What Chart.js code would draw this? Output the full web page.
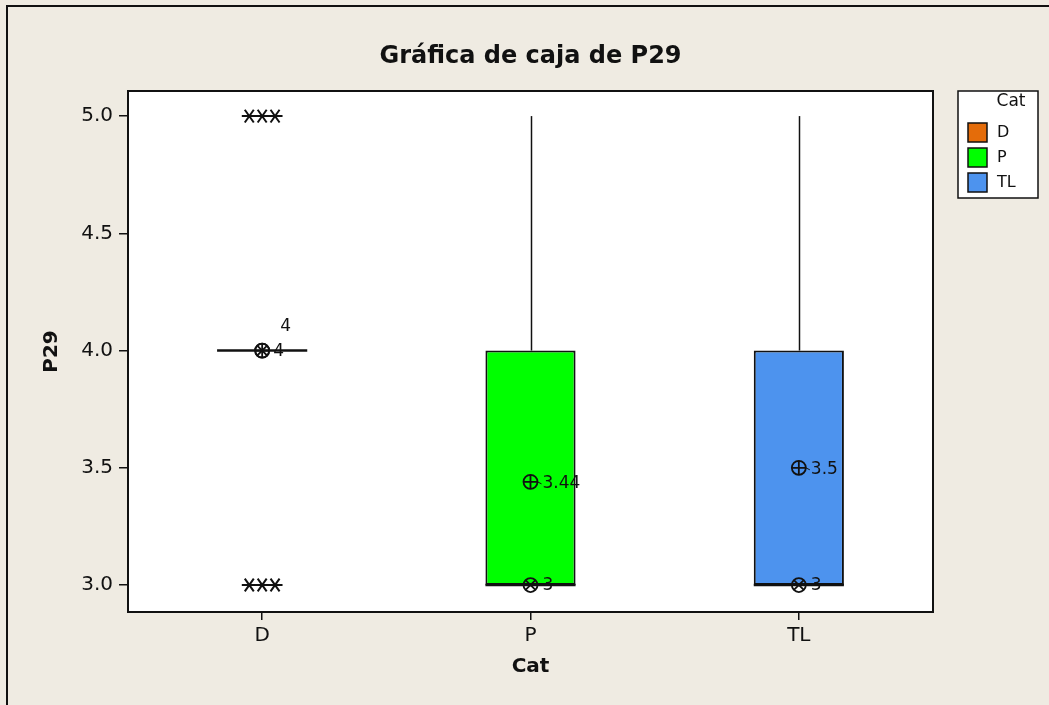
<!DOCTYPE html>
<html>
<head>
<meta charset="utf-8">
<title>Gráfica de caja de P29</title>
<script src="https://cdn.jsdelivr.net/npm/chart.js@4/dist/chart.umd.min.js"></script>
<style>
  html, body { margin: 0; padding: 0; background: #EFEBE2; }
  #wrap { position: relative; width: 1049px; height: 705px; }
  canvas { display: block; }
</style>
</head>
<body>
<div id="wrap"><canvas id="c" width="1049" height="705"></canvas></div>
<script>
// Box plot summary of P29 by Cat
const categories = ['D', 'P', 'TL'];
const q1 = [4, 3, 3];
const medians = [4, 3, 3];
const q3 = [4, 4, 4];
const whiskerLow = [4, 3, 3];
const whiskerHigh = [4, 5, 5];
const means = [4, 3.44, 3.5];
const meanLabels = ['4', '3.44', '3.5'];
const medianLabels = ['4', '3', '3'];
// outliers (category index, value)
const outlierCat = [0, 0, 0, 0, 0, 0];
const outlierValue = [5, 5, 5, 3, 3, 3];
const yTicks = [3.0, 3.5, 4.0, 4.5, 5.0];
const boxColors = ['#E46C0A', '#00FF00', '#4D93EE'];

const FONT = '"DejaVu Sans", Verdana, sans-serif';
const BOX_HALF = 0.168;           // half box width in category units
const JITTER = [-0.048, 0, 0.048]; // spread of repeated outliers

const boxPlugin = {
  id: 'boxplot',
  beforeDraw(chart) {
    const ctx = chart.ctx;
    ctx.save();
    ctx.fillStyle = '#EFEBE2';
    ctx.fillRect(0, 0, chart.width, chart.height);
    // outer frame
    ctx.strokeStyle = '#111';
    ctx.lineWidth = 2;
    ctx.beginPath();
    ctx.moveTo(7, chart.height + 2);
    ctx.lineTo(7, 6);
    ctx.lineTo(chart.width + 2, 6);
    ctx.stroke();
    const a = chart.chartArea;
    ctx.fillStyle = '#FFFFFF';
    ctx.fillRect(a.left, a.top, a.right - a.left, a.bottom - a.top);
    ctx.restore();
  },
  beforeDatasetsDraw(chart) {
    // whiskers drawn behind the boxes
    const ctx = chart.ctx, x = chart.scales.x, y = chart.scales.y;
    ctx.save();
    ctx.strokeStyle = '#111';
    ctx.lineWidth = 1.5;
    categories.forEach((c, i) => {
      const px = Math.round(x.getPixelForValue(i)) + 0.5;
      if (whiskerHigh[i] > q3[i]) {
        ctx.beginPath();
        ctx.moveTo(px, y.getPixelForValue(q3[i]));
        ctx.lineTo(px, y.getPixelForValue(whiskerHigh[i]));
        ctx.stroke();
      }
      if (whiskerLow[i] < q1[i]) {
        ctx.beginPath();
        ctx.moveTo(px, y.getPixelForValue(q1[i]));
        ctx.lineTo(px, y.getPixelForValue(whiskerLow[i]));
        ctx.stroke();
      }
    });
    ctx.restore();
  },
  afterDatasetsDraw(chart) {
    const ctx = chart.ctx, x = chart.scales.x, y = chart.scales.y;
    const a = chart.chartArea;
    ctx.save();
    ctx.strokeStyle = '#111';
    ctx.fillStyle = '#111';

    // median lines
    ctx.lineWidth = 2.5;
    categories.forEach((c, i) => {
      const py = y.getPixelForValue(medians[i]);
      ctx.beginPath();
      ctx.moveTo(x.getPixelForValue(i - BOX_HALF), py);
      ctx.lineTo(x.getPixelForValue(i + BOX_HALF), py);
      ctx.stroke();
    });

    // mean (circle +) and median (circle x) symbols
    const r = 7;
    ctx.lineWidth = 1.8;
    categories.forEach((c, i) => {
      const px = x.getPixelForValue(i);
      const pm = y.getPixelForValue(means[i]);
      const pd = y.getPixelForValue(medians[i]);
      // mean symbol
      ctx.beginPath(); ctx.arc(px, pm, r, 0, Math.PI * 2); ctx.stroke();
      ctx.beginPath();
      ctx.moveTo(px - r, pm); ctx.lineTo(px + r, pm);
      ctx.moveTo(px, pm - r); ctx.lineTo(px, pm + r);
      ctx.stroke();
      // median symbol
      const d = r * 0.707;
      ctx.beginPath(); ctx.arc(px, pd, r, 0, Math.PI * 2); ctx.stroke();
      ctx.beginPath();
      ctx.moveTo(px - d, pd - d); ctx.lineTo(px + d, pd + d);
      ctx.moveTo(px + d, pd - d); ctx.lineTo(px - d, pd + d);
      ctx.stroke();
    });

    // value labels
    ctx.font = '17px ' + FONT;
    ctx.textBaseline = 'middle';
    ctx.textAlign = 'left';
    ctx.lineWidth = 1;
    categories.forEach((c, i) => {
      const px = x.getPixelForValue(i);
      const pm = y.getPixelForValue(means[i]);
      const pd = y.getPixelForValue(medians[i]);
      if (means[i] === medians[i]) {
        ctx.fillText(medianLabels[i], px + 11, pd + 1);
        ctx.fillText(meanLabels[i], px + 18, pm - 24);
      } else {
        ctx.beginPath(); ctx.moveTo(px + r, pm); ctx.lineTo(px + r + 4, pm + 2); ctx.stroke();
        ctx.fillText(meanLabels[i], px + 12, pm + 2);
        ctx.fillText(medianLabels[i], px + 12, pd + 1);
      }
    });

    // outliers as asterisks, repeated values spread side by side
    const seen = {};
    ctx.lineWidth = 2;
    outlierValue.forEach((v, k) => {
      const key = outlierCat[k] + ':' + v;
      const n = seen[key] = (seen[key] || 0) + 1;
      const px = x.getPixelForValue(outlierCat[k] + JITTER[(n - 1) % JITTER.length]);
      const py = y.getPixelForValue(v);
      const s = 7.5;
      ctx.beginPath();
      ctx.moveTo(px - s, py); ctx.lineTo(px + s, py);
      ctx.moveTo(px - s * 0.6, py - s * 0.85); ctx.lineTo(px + s * 0.6, py + s * 0.85);
      ctx.moveTo(px + s * 0.6, py - s * 0.85); ctx.lineTo(px - s * 0.6, py + s * 0.85);
      ctx.stroke();
    });

    // plot frame
    ctx.lineWidth = 2;
    ctx.strokeRect(a.left, a.top, a.right - a.left, a.bottom - a.top);

    // titles
    ctx.textAlign = 'center';
    ctx.font = 'bold 24px ' + FONT;
    ctx.fillText('Gráfica de caja de P29', (a.left + a.right) / 2, 57);
    ctx.font = 'bold 20px ' + FONT;
    ctx.fillText('Cat', (a.left + a.right) / 2, 667);
    ctx.save();
    ctx.translate(52, (a.top + a.bottom) / 2);
    ctx.rotate(-Math.PI / 2);
    ctx.fillText('P29', 0, 0);
    ctx.restore();

    // legend
    const lx = 958, ly = 91, lw = 80, lh = 107;
    ctx.fillStyle = '#FFFFFF';
    ctx.fillRect(lx, ly, lw, lh);
    ctx.lineWidth = 1.5;
    ctx.strokeRect(lx, ly, lw, lh);
    ctx.fillStyle = '#111';
    ctx.font = '17px ' + FONT;
    ctx.textAlign = 'center';
    ctx.fillText('Cat', 1011, 102);
    ctx.font = '16px ' + FONT;
    ctx.textAlign = 'left';
    categories.forEach((c, i) => {
      const sy = 123 + i * 25;
      ctx.fillStyle = boxColors[i];
      ctx.fillRect(968, sy, 19, 19);
      ctx.strokeStyle = '#111';
      ctx.lineWidth = 1.5;
      ctx.strokeRect(968, sy, 19, 19);
      ctx.fillStyle = '#111';
      ctx.fillText(c, 997, sy + 10);
    });
    ctx.restore();
  }
};

new Chart(document.getElementById('c'), {
  type: 'bar',
  data: {
    labels: categories,
    datasets: [{
      label: 'P29',
      data: categories.map((c, i) => q3[i] > q1[i] ? [q1[i], q3[i]] : null),
      backgroundColor: boxColors,
      borderColor: '#111',
      borderWidth: 2,
      borderSkipped: false,
      categoryPercentage: 1,
      barPercentage: BOX_HALF * 2
    }]
  },
  plugins: [boxPlugin],
  options: {
    responsive: false,
    animation: false,
    layout: { padding: { top: 91, right: 116, left: 0, bottom: 0 } },
    plugins: { legend: { display: false }, tooltip: { enabled: false }, title: { display: false } },
    scales: {
      x: {
        type: 'category',
        offset: true,
        grid: { display: true, drawOnChartArea: false, offset: false, tickLength: 8, color: '#111', lineWidth: 1.5 },
        border: { display: false },
        ticks: { color: '#111', padding: 4, font: { family: FONT, size: 20 } },
        afterFit(s) { s.height = 93; }
      },
      y: {
        min: 2.885,
        max: 5.107,
        afterBuildTicks(s) { s.ticks = yTicks.map(v => ({ value: v })); },
        grid: { display: true, drawOnChartArea: false, tickLength: 9, color: '#111', lineWidth: 1.5 },
        border: { display: false },
        ticks: { color: '#111', padding: 6, font: { family: FONT, size: 20 },
                 callback: v => Number(v).toFixed(1) },
        afterFit(s) { s.width = 128; }
      }
    }
  }
});
</script>
</body>
</html>
